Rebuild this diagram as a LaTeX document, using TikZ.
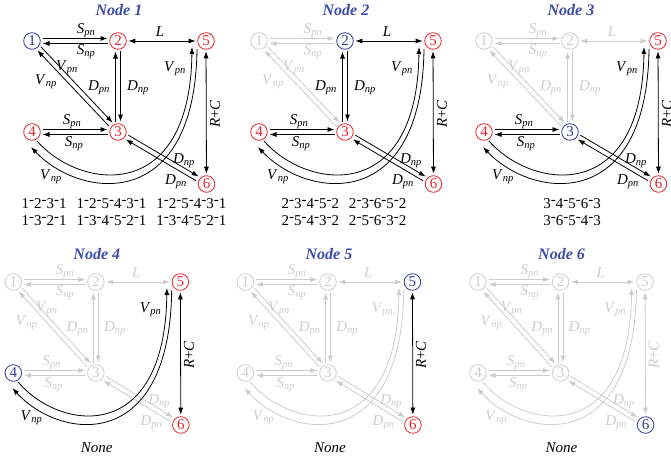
\documentclass[tikz,border=0pt]{standalone}
\usepackage{fontspec}
\setmainfont{Liberation Serif}
\usetikzlibrary{arrows.meta,calc}
\definecolor{dim}{HTML}{CCCCCC}
\definecolor{hot}{HTML}{E8242A}
\definecolor{cur}{HTML}{2B3A96}
\definecolor{head}{HTML}{3D4BA6}
\newcommand{\lab}[2]{\textit{#1}\textsubscript{\textit{#2}}}
\newcommand{\hy}{\raisebox{.28em}{-}}
\newcommand{\gap}{\hspace{10pt}}
% two opposite arrows between a and b: left one to b, right one to a
\newcommand{\twoway}[3]{%
 \draw[grp=#3,->,par] ($(#1)!2.5pt!90:(#2)$) -- ($(#2)!2.5pt!-90:(#1)$);
 \draw[grp=#3,->,par] ($(#2)!2.5pt!90:(#1)$) -- ($(#1)!2.5pt!-90:(#2)$);}
\tikzset{
 grp/.code={\ifnum#1<\sel\relax\pgfkeysalso{color=dim}\else\pgfkeysalso{color=black}\fi},
 st/.code={\ifnum#1<\sel\relax\pgfkeysalso{color=dim}\else\ifnum#1=\sel\relax\pgfkeysalso{color=cur}\else\pgfkeysalso{color=hot}\fi\fi},
 vtx/.style={circle,draw,line width=.8pt,minimum size=16.6pt,inner sep=0pt,outer sep=2pt,font=\fontsize{15}{15}\selectfont},
 lbl/.style={inner sep=0pt,font=\fontsize{15}{15}\selectfont},
 par/.style={shorten <=10.5pt,shorten >=10.5pt},
 title/.style={anchor=base,text=head,font=\fontsize{16}{16}\selectfont\bfseries\itshape},
 routes/.style={align=center,font=\fontsize{15}{17}\selectfont},
}
\begin{document}
\begin{tikzpicture}[x=1pt,y=1pt,>={Latex[length=7pt,width=5pt]},line width=.8pt]
\useasboundingbox (0,0) rectangle (671,-460);
\foreach \sel/\ox/\oy/\sx/\tx/\ty/\tb/\txt in {
 1/32/41/1/92/-171/25/{1\hy2\hy3\hy1\gap1\hy2\hy5\hy4\hy3\hy1\gap1\hy2\hy5\hy4\hy3\hy1\\1\hy3\hy2\hy1\gap1\hy3\hy4\hy5\hy2\hy1\gap1\hy3\hy4\hy5\hy2\hy1},
 2/259/41/1/85/-171/25/{2\hy3\hy4\hy5\hy2\gap2\hy3\hy6\hy5\hy2\\2\hy5\hy4\hy3\hy2\gap2\hy5\hy6\hy3\hy2},
 3/484/41/1/88/-171/25/{3\hy4\hy5\hy6\hy3\\3\hy6\hy5\hy4\hy3},
 4/13.3/282/.96/87/-166/23/{\textit{None}},
 5/245.4/282/.96/88/-166/23/{\textit{None}},
 6/478/282/.96/87/-166/23/{\textit{None}}}{
 \begin{scope}[shift={(\ox,-\oy)},xscale=\sx]
  \node[vtx,st=1] (n1) at (0,0) {1};
  \node[vtx,st=2] (n2) at (86,0) {2};
  \node[vtx,st=5] (n5) at (174,0) {5};
  \node[vtx,st=4] (n4) at (0,-91) {4};
  \node[vtx,st=3] (n3) at (86,-91) {3};
  \node[vtx,st=6] (n6) at (174.5,-143) {6};
  \node[title] (ttl) at (87,\tb) {Node \sel};
  \node[routes] (rts) at (\tx,\ty) {\txt};
  % edges, dimmed ones first
  \twoway{n1}{n2}{1}
  \twoway{n3}{n1}{1}
  \draw[grp=2,<->] (n2) -- (n5);
  \twoway{n3}{n2}{2}
  \twoway{n4}{n3}{3}
  \twoway{n3}{n6}{3}
  \draw[grp=4,->] ($(n4)+(5,-9)$) .. controls +(43,-49) and +(-2,-158) .. ($(n5)+(-14,-6)$);
  \draw[grp=4,->] ($(n5)+(-9,-8)$) .. controls +(-2,-165) and +(49,-52) .. ($(n4)+(-1,-15)$);
  \draw[grp=5,<->] (n5) -- (n6);
  % labels
  \node[lbl,grp=1] (s12a) at (54,10) {\lab{S}{pn}};
  \node[lbl,grp=1] (s12b) at (54,-11) {\lab{S}{np}};
  \node[lbl,grp=1] (v13a) at (35,-27) {\lab{V}{pn}};
  \node[lbl,grp=1] (v13b) at (14,-41) {\lab{V}{np}};
  \node[lbl,grp=2] (l25) at (128,9) {\textit{L}};
  \node[lbl,grp=2] (d23a) at (67,-47) {\lab{D}{pn}};
  \node[lbl,grp=2] (d23b) at (106,-47) {\lab{D}{np}};
  \node[lbl,grp=3] (s43a) at (40,-81) {\lab{S}{pn}};
  \node[lbl,grp=3] (s43b) at (42,-103) {\lab{S}{np}};
  \node[lbl,grp=3] (d36a) at (152,-120) {\lab{D}{np}};
  \node[lbl,grp=3] (d36b) at (144,-141) {\lab{D}{pn}};
  \node[lbl,grp=4] (v45a) at (143,-28) {\lab{V}{pn}};
  \node[lbl,grp=4] (v45b) at (19,-136) {\lab{V}{np}};
  \node[lbl,grp=5,rotate=90] (rc56) at (183,-73) {\textit{R}+\textit{C}};
 \end{scope}
}
\end{tikzpicture}
\end{document}
